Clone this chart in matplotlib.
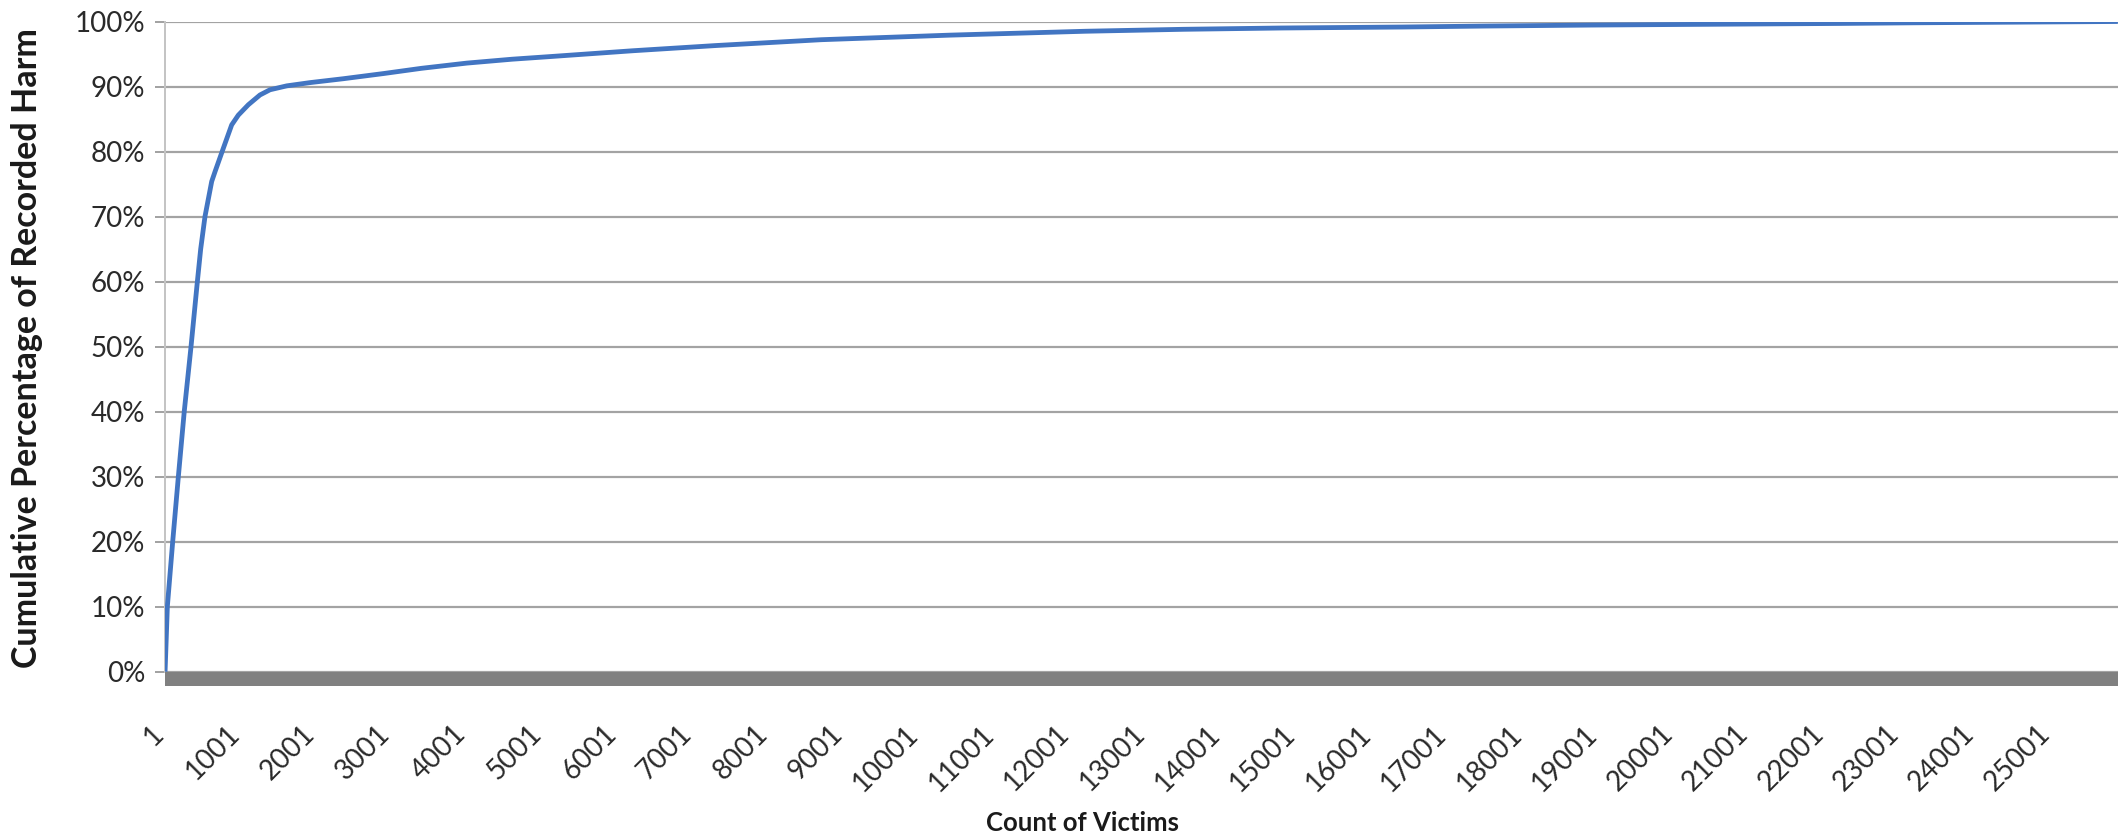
import matplotlib
matplotlib.use("Agg")
import matplotlib.pyplot as plt
import matplotlib.transforms as mtransforms

# ---- data ----
victim_count = [1, 31, 102, 177, 255, 345, 429, 473, 530, 619, 663, 773, 884,
                972, 1105, 1259, 1392, 1613, 1922, 2364, 2900, 3400,
                4000, 4600, 5100, 6200, 7300, 8700, 10400, 11300, 12200, 13500, 14800,
                16400, 17500, 18900, 20200, 22200, 23200, 25888]
cum_pct = [0.0, 10.0, 20.0, 30.0, 40.0, 50.0, 60.0, 65.0, 70.0, 75.4, 76.9, 80.5, 84.1,
           85.6, 87.2, 88.7, 89.5, 90.1, 90.6, 91.2, 92.0, 92.8,
           93.6, 94.2, 94.6, 95.5, 96.3, 97.2, 97.9, 98.2, 98.5, 98.8, 99.0,
           99.15, 99.3, 99.45, 99.55, 99.7, 99.8, 100.0]
n_categories = 25890
x_tick_values = list(range(1, 25002, 1000))
x_tick_labels = [str(v) for v in x_tick_values]
y_tick_values = list(range(0, 101, 10))
y_tick_labels = [f"{v}%" for v in y_tick_values]

W, H, DPI = 2125, 839, 100
px = 72.0 / DPI  # points per pixel

plt.rcParams['font.family'] = ['Lato', 'DejaVu Sans']

fig = plt.figure(figsize=(W / DPI, H / DPI), dpi=DPI)
ax = fig.add_axes([165 / W, 1 - 671.7 / H, (2118 - 165) / W, (671.7 - 21.5) / H])

# spines first (set_position resets ticks)
for s in ['top', 'right']:
    ax.spines[s].set_visible(False)
ax.spines['left'].set_color('#c4c4c4')
ax.spines['left'].set_linewidth(2 * px)
ax.spines['bottom'].set_position(('outward', 7 * px))
ax.spines['bottom'].set_color('#808080')
ax.spines['bottom'].set_linewidth(14 * px)
ax.spines['bottom'].set_capstyle('butt')
ax.spines['bottom'].set_zorder(4)

ax.plot(victim_count, cum_pct, color='#4275C2', lw=4.8 * px,
        solid_joinstyle='round', solid_capstyle='butt', zorder=3)

ax.set_xlim(0, n_categories)
ax.set_ylim(0, 100)

ax.tick_params(axis='y', length=10 * px, width=2 * px, color='#a3a3a3',
               pad=10 * px, labelsize=20, labelcolor='#2a2a2a')
ax.tick_params(axis='x', length=0, pad=42 * px, labelsize=20, labelcolor='#2a2a2a')

ax.set_yticks(y_tick_values)
ax.set_yticklabels(y_tick_labels)
ax.set_xticks(x_tick_values)
ax.set_xticklabels(x_tick_labels, rotation=45, ha='right', va='top')

ax.grid(axis='y', color='#a3a3a3', lw=2.2 * px, zorder=1)
ax.grid(axis='x', visible=False)
ax.set_axisbelow(True)

offset = mtransforms.ScaledTranslation(4 / DPI, 0, fig.dpi_scale_trans)
for lbl in ax.get_xticklabels():
    lbl.set_transform(lbl.get_transform() + offset)

fig.text(1083 / W, 1 - 823 / H, 'Count of Victims', ha='center', va='center',
         fontsize=18.5, fontweight='bold', color='#1a1a1a')
fig.text(27 / W, 1 - 348 / H, 'Cumulative Percentage of Recorded Harm',
         rotation=90, ha='center', va='center', fontsize=24.5, fontweight='bold',
         color='#1a1a1a')

fig.savefig('out.png', dpi=DPI)
